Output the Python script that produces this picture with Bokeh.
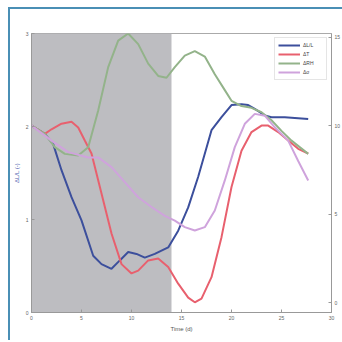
from bokeh.plotting import figure
from bokeh.models import Range1d, LinearAxis, BoxAnnotation, Label, Legend, LegendItem, FixedTicker
from bokeh.embed import file_html
from bokeh.resources import INLINE

# ---- data ----
blue_x = [0, 1.33, 2.17, 3.0, 4.0, 5.0, 6.17, 7.0, 8.0, 8.83, 9.67, 10.5, 11.33, 12.33, 13.67, 14.67, 15.67, 16.67, 18.0, 19.0, 20.0, 21.0, 21.67, 22.33, 23.33, 24.0, 25.33, 27.67]
blue_y = [2.01, 1.92, 1.81, 1.53, 1.24, 0.99, 0.61, 0.52, 0.47, 0.56, 0.65, 0.63, 0.59, 0.63, 0.70, 0.88, 1.13, 1.46, 1.96, 2.10, 2.23, 2.24, 2.23, 2.19, 2.12, 2.10, 2.10, 2.08]

red_x = [0, 1.33, 2, 3, 4, 4.67, 5.33, 6, 7, 8, 9, 10, 10.67, 11.67, 12.67, 13.67, 14.67, 15.67, 16.33, 17, 18, 19, 20, 21, 22, 23, 23.67, 24.67, 25.67, 26.67, 27.67]
red_y = [2.01, 1.92, 1.97, 2.03, 2.05, 1.99, 1.85, 1.71, 1.28, 0.85, 0.52, 0.42, 0.45, 0.56, 0.58, 0.49, 0.31, 0.16, 0.11, 0.15, 0.38, 0.81, 1.35, 1.74, 1.94, 2.01, 2.01, 1.94, 1.85, 1.76, 1.71]

green_x = [0, 1.33, 2.33, 3.33, 4.67, 5.67, 6.67, 7.67, 8.67, 9.67, 10.67, 11.67, 12.67, 13.5, 14.33, 15.33, 16.33, 17.33, 18.33, 19.33, 20, 21, 22, 23, 24, 25, 26, 27.67]
green_y = [10.0, 9.53, 8.78, 8.40, 8.31, 8.78, 10.85, 13.3, 14.8, 15.2, 14.6, 13.5, 12.8, 12.7, 13.3, 13.95, 14.2, 13.9, 12.9, 12.0, 11.4, 11.1, 11.0, 10.75, 10.3, 9.7, 9.15, 8.4]

pink_x = [0, 2, 3.67, 5.67, 6.67, 8, 9.33, 10.67, 12, 13.33, 14.33, 15.33, 16.33, 17.33, 18.33, 19.33, 20.33, 21.33, 22.33, 23.33, 24.33, 25.67, 26.67, 27.67]
pink_y = [10.0, 9.15, 8.5, 8.2, 8.2, 7.65, 6.8, 5.95, 5.4, 4.9, 4.63, 4.26, 4.07, 4.26, 5.2, 6.9, 8.78, 10.1, 10.66, 10.56, 9.9, 9.15, 8.0, 6.9]

series_names = ["ΔL/L", "ΔT", "ΔRH", "Δσ"]
x_ticks = [0, 5, 10, 15, 20, 25, 30]
left_ticks = [0, 1, 2, 3]
right_ticks = [0, 5, 10, 15]
shade_start, shade_end = 0, 14

# ---- figure ----
p = figure(frame_width=300, frame_height=279, output_backend="svg", toolbar_location=None,
           x_range=Range1d(0, 30), y_range=Range1d(0, 3),
           min_border_left=20, min_border_right=12, min_border_top=24, min_border_bottom=28)
p.margin = (7, 0, 0, 8)
p.styles = {"border-left": "2px solid #4a8fb5", "border-top": "2px solid #4a8fb5", "box-sizing": "border-box"}
p.background_fill_color = "white"
p.border_fill_color = "white"
p.outline_line_color = "#aaaaaa"
p.xgrid.visible = False
p.ygrid.visible = False

p.extra_y_ranges = {"right": Range1d(-0.56, 15.2)}
right_axis = LinearAxis(y_range_name="right", ticker=FixedTicker(ticks=right_ticks))
p.add_layout(right_axis, "right")

for ax in [p.xaxis[0], p.yaxis[0], right_axis]:
    ax.axis_line_color = "#999999"
    ax.major_tick_line_color = "#999999"
    ax.minor_tick_line_color = None
    ax.major_tick_in = 3
    ax.major_tick_out = 0
    ax.major_label_text_font_size = "5px"
    ax.major_label_text_color = "#666666"
    ax.major_label_standoff = 3
    ax.axis_label_text_font_size = "6px"
    ax.axis_label_text_font_style = "normal"
    ax.axis_label_standoff = 3

p.xaxis[0].ticker = FixedTicker(ticks=x_ticks)
p.yaxis[0].ticker = FixedTicker(ticks=left_ticks)
p.xaxis[0].axis_label = "Time (d)"
p.xaxis[0].axis_label_text_color = "#555555"
p.yaxis[0].axis_label = "ΔL/L (-)"
p.yaxis[0].axis_label_text_color = "#5060b0"

p.add_layout(BoxAnnotation(left=shade_start, right=shade_end, fill_color="#bdbdc1", fill_alpha=1.0, line_color=None, level="underlay"))

r_blue = p.line(blue_x, blue_y, line_color="#3c4f9c", line_width=2)
r_red = p.line(red_x, red_y, line_color="#e8606e", line_width=2)
r_green = p.line(green_x, green_y, line_color="#93b38a", line_width=2, y_range_name="right")
r_pink = p.line(pink_x, pink_y, line_color="#cfa3dc", line_width=2, y_range_name="right")

legend = Legend(items=[LegendItem(label=n, renderers=[r]) for n, r in zip(series_names, [r_blue, r_red, r_green, r_pink])],
                location="top_right", label_text_font_size="5px", glyph_width=22, glyph_height=8,
                label_height=8, spacing=1, padding=3, margin=4, border_line_color="#cccccc",
                label_standoff=3)
p.add_layout(legend)

p.add_layout(Label(x=29.2, y=15.5, y_range_name="right", text="×10⁻³", text_font_size="5px",
                   text_color="#666666", text_align="left"))

open("out.html", "w").write(file_html(p, INLINE))
